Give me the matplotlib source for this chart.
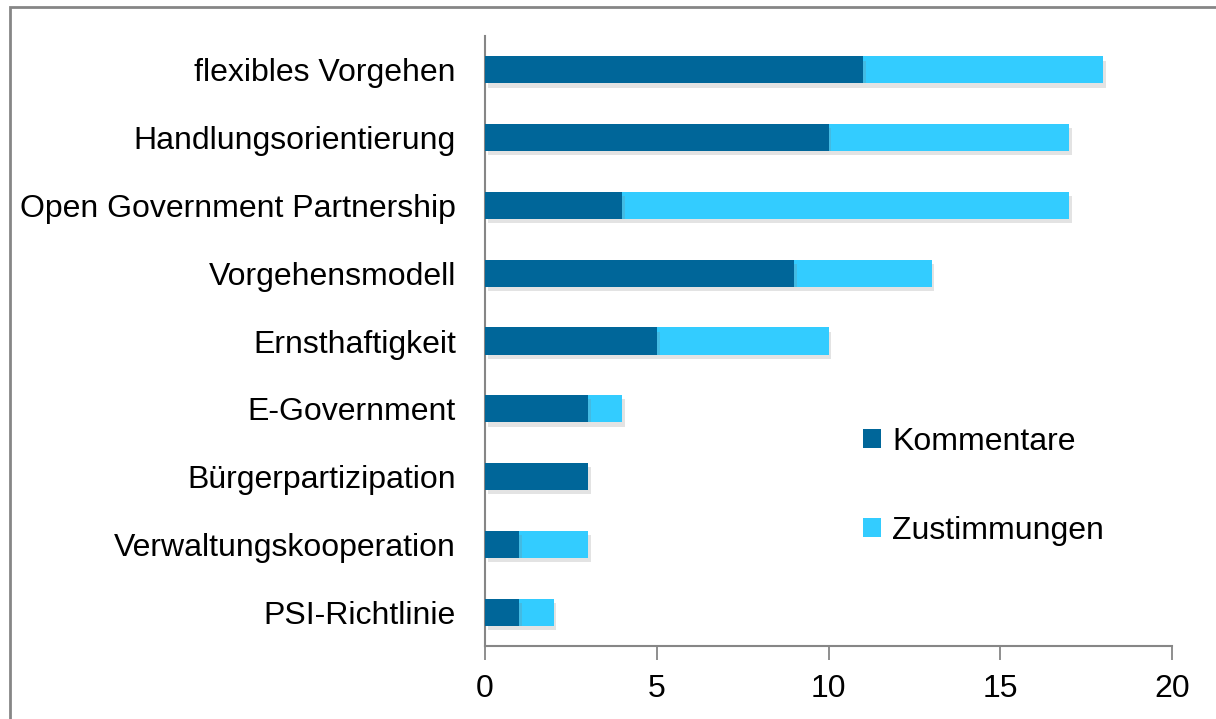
import matplotlib
matplotlib.use("Agg")
import matplotlib.pyplot as plt
from matplotlib.patches import Rectangle
import matplotlib.patheffects as pe

categories = ["flexibles Vorgehen", "Handlungsorientierung", "Open Government Partnership",
              "Vorgehensmodell", "Ernsthaftigkeit", "E-Government", "Bürgerpartizipation",
              "Verwaltungskooperation", "PSI-Richtlinie"]
kommentare = [11, 10, 4, 9, 5, 3, 3, 1, 1]
zustimmungen = [7, 7, 13, 4, 5, 1, 0, 2, 1]
xticks = [0, 5, 10, 15, 20]

plt.rcParams['font.family'] = ['Liberation Sans', 'DejaVu Sans']

fig = plt.figure(figsize=(12.16, 7.19), dpi=100)
ax = fig.add_axes([485/1216, 1-646/719, (1172-485)/1216, (646-36)/719])

n = len(categories)
ypos = [n - 1 - i for i in range(n)]
shadow = [pe.SimplePatchShadow(offset=(2, -3), alpha=0.22, shadow_rgbFace='gray'), pe.Normal()]
b1 = ax.barh(ypos, kommentare, height=0.4, color='#006699', label='Kommentare', zorder=3)
b2 = ax.barh(ypos, zustimmungen, left=kommentare, height=0.4, color='#33CCFF', label='Zustimmungen', zorder=2)
for b in list(b1) + list(b2):
    b.set_path_effects(shadow)

ax.set_ylim(-0.5, n - 0.5)
ax.set_xlim(0, 20)
ax.set_xticks(xticks)
ax.set_xticklabels([str(t) for t in xticks], fontsize=23)
ax.set_yticks(ypos)
ax.set_yticklabels(categories, fontsize=23)
ax.tick_params(axis='y', length=0, pad=21)
ax.tick_params(axis='x', length=10, width=1.3, color='#868686', direction='out', pad=10)
for s in ['top', 'right']:
    ax.spines[s].set_visible(False)
for s in ['left', 'bottom']:
    ax.spines[s].set_color('#868686')
    ax.spines[s].set_linewidth(1.5)

leg = ax.legend(handles=[b1, b2], loc='center left', bbox_to_anchor=(0.509, 0.262), frameon=False,
                fontsize=23, labelspacing=1.85, handlelength=0.55, handleheight=0.55, handletextpad=0.35)
for h in leg.legend_handles:
    h.set_path_effects([])

fig.patches.append(Rectangle((10/1216, -0.1), 1.2, 1 - 7/719 + 0.1, transform=fig.transFigure,
                             fill=False, edgecolor='#868686', linewidth=2))

fig.savefig("out.png", dpi=100)
